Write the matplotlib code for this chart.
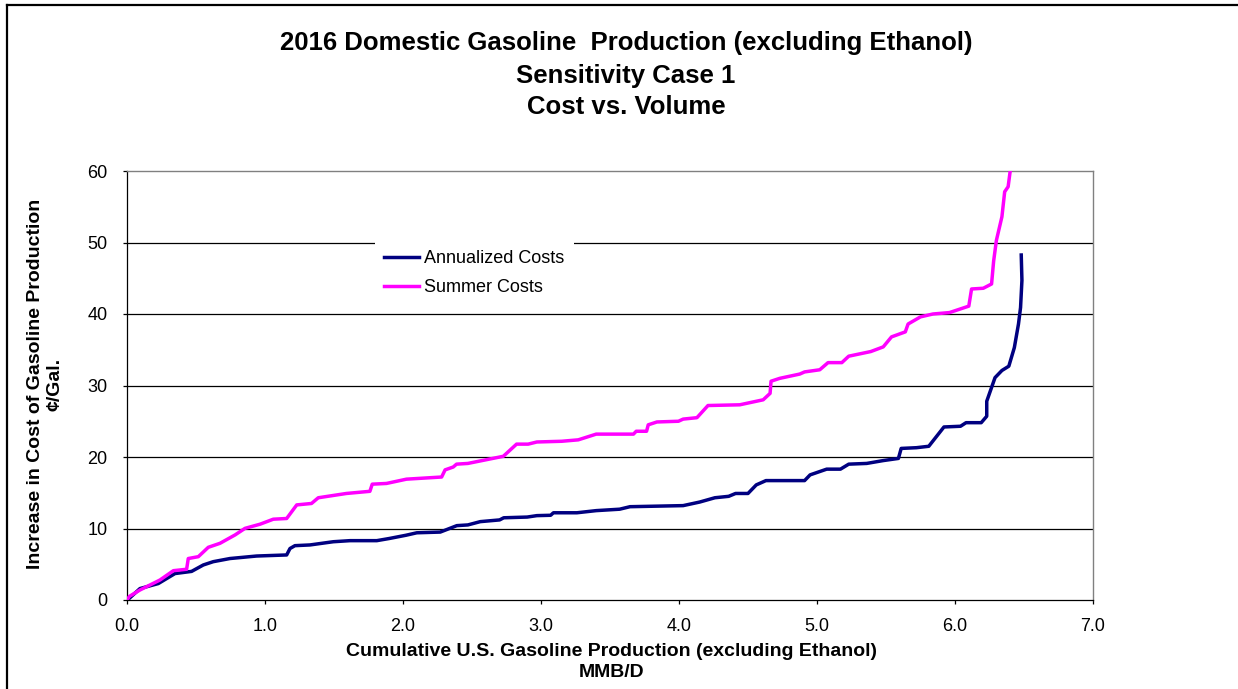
import matplotlib
matplotlib.use("Agg")
import matplotlib.pyplot as plt
from matplotlib.lines import Line2D

plt.rcParams['font.family'] = ['Liberation Sans', 'DejaVu Sans']

# Annualized costs (cumulative MMB/D vs cents/gal)
annual_x = [0.0, 0.017, 0.094, 0.227, 0.348, 0.468, 0.553, 0.625, 0.746, 0.939, 1.157,
            1.181, 1.217, 1.326, 1.495, 1.616, 1.81, 1.90, 2.02, 2.10, 2.27, 2.39, 2.47,
            2.56, 2.70, 2.73, 2.90, 2.97, 3.07, 3.09, 3.26, 3.40, 3.57, 3.645, 4.03,
            4.15, 4.26, 4.36, 4.41, 4.50, 4.56, 4.63, 4.91, 4.95, 5.07, 5.17, 5.23,
            5.36, 5.48, 5.59, 5.61, 5.72, 5.81, 5.92, 6.04, 6.08, 6.19, 6.23, 6.23,
            6.29, 6.34, 6.39, 6.43, 6.46, 6.475, 6.485, 6.48]
annual_y = [0.0, 0.24, 1.6, 2.3, 3.7, 4.0, 4.9, 5.36, 5.8, 6.15, 6.3,
            7.2, 7.6, 7.7, 8.15, 8.3, 8.3, 8.6, 9.05, 9.4, 9.5, 10.4, 10.5,
            10.96, 11.2, 11.5, 11.6, 11.8, 11.85, 12.2, 12.2, 12.5, 12.7, 13.05, 13.2,
            13.7, 14.3, 14.5, 14.9, 14.9, 16.1, 16.7, 16.7, 17.5, 18.3, 18.3, 19.0,
            19.1, 19.5, 19.8, 21.2, 21.3, 21.5, 24.2, 24.3, 24.8, 24.8, 25.7, 27.8,
            31.1, 32.1, 32.7, 35.3, 38.6, 40.9, 44.7, 48.25]

# Summer costs
summer_x = [0.0, 0.017, 0.094, 0.239, 0.336, 0.432, 0.444, 0.517, 0.589, 0.674, 0.783,
            0.855, 0.964, 1.06, 1.157, 1.23, 1.337, 1.386, 1.59, 1.76, 1.777, 1.88,
            2.025, 2.28, 2.305, 2.364, 2.388, 2.47, 2.727, 2.823, 2.907, 2.97, 3.15,
            3.27, 3.40, 3.67, 3.69, 3.765, 3.777, 3.84, 3.996, 4.03, 4.13, 4.21, 4.44,
            4.61, 4.66, 4.667, 4.73, 4.875, 4.91, 5.02, 5.08, 5.18, 5.23, 5.39, 5.48,
            5.54, 5.64, 5.66, 5.75, 5.84, 5.96, 6.10, 6.12, 6.205, 6.265, 6.28, 6.30,
            6.34, 6.36, 6.385, 6.40, 6.41]
summer_y = [0.0, 0.5, 1.4, 2.8, 4.1, 4.3, 5.8, 6.06, 7.37, 7.93, 9.1,
            10.02, 10.6, 11.3, 11.4, 13.3, 13.5, 14.3, 14.9, 15.2, 16.2, 16.3,
            16.9, 17.2, 18.2, 18.6, 19.0, 19.1, 20.1, 21.8, 21.8, 22.1, 22.2,
            22.4, 23.2, 23.2, 23.6, 23.6, 24.5, 24.9, 25.0, 25.3, 25.5, 27.2, 27.3,
            28.0, 28.9, 30.6, 31.0, 31.6, 31.9, 32.2, 33.2, 33.2, 34.1, 34.75, 35.4,
            36.8, 37.5, 38.6, 39.6, 40.0, 40.2, 41.1, 43.5, 43.6, 44.2, 47.4, 50.3,
            53.6, 57.1, 57.8, 60.0, 61.5]

x_ticks = [0, 1, 2, 3, 4, 5, 6, 7]
y_ticks = [0, 10, 20, 30, 40, 50, 60]

W, H = 1238, 689
fig = plt.figure(figsize=(W / 100, H / 100), dpi=100)
fig.patch.set_facecolor('white')

# chart border: only the left and top edges show in the crop
fig.add_artist(Line2D([7 / W, 7 / W], [0, 1 - 4.5 / H], transform=fig.transFigure,
                      color='black', linewidth=1.6))
fig.add_artist(Line2D([7 / W, 1], [1 - 4.5 / H, 1 - 4.5 / H], transform=fig.transFigure,
                      color='black', linewidth=1.6))

ax = fig.add_axes([127 / W, 1 - 600 / H, 966 / W, 429 / H])

for yv in y_ticks[1:-1]:
    ax.axhline(yv, color='black', linewidth=0.9, zorder=1)

ax.plot(annual_x, annual_y, color='#000080', linewidth=2.5, label='Annualized Costs', zorder=3)
ax.plot(summer_x, summer_y, color='#FF00FF', linewidth=2.5, label='Summer Costs', zorder=3)

ax.set_xlim(0, 7)
ax.set_ylim(0, 60)
ax.set_xticks(x_ticks)
ax.set_xticklabels([f'{v:.1f}' for v in x_ticks], fontsize=13)
ax.set_yticks(y_ticks)
ax.set_yticklabels([str(v) for v in y_ticks], fontsize=13)
ax.tick_params(direction='out', length=3, width=0.9, color='black')
ax.tick_params(axis='x', pad=10)
ax.tick_params(axis='y', pad=11)

for side in ['top', 'right']:
    ax.spines[side].set_color('#808080')
    ax.spines[side].set_linewidth(1.0)
for side in ['left', 'bottom']:
    ax.spines[side].set_color('black')
    ax.spines[side].set_linewidth(0.9)

fig.text(612 / W, 1 - 662 / H,
         'Cumulative U.S. Gasoline Production (excluding Ethanol)\nMMB/D',
         ha='center', va='center', fontsize=14, fontweight='bold', linespacing=1.35)
fig.text(45 / W, 1 - 384 / H, 'Increase in Cost of Gasoline Production\n¢/Gal.',
         ha='center', va='center', rotation=90, fontsize=14, fontweight='bold',
         linespacing=1.2)

leg = ax.legend(loc='upper left', bbox_to_anchor=(0.247, 0.857), fontsize=13,
                frameon=True, fancybox=False, framealpha=1.0, edgecolor='white',
                handlelength=1.95, handletextpad=0.3, labelspacing=0.65, borderpad=0.5)
leg.get_frame().set_linewidth(0)

title_lines = ['2016 Domestic Gasoline  Production (excluding Ethanol)',
               'Sensitivity Case 1', 'Cost vs. Volume']
for line, yc in zip(title_lines, [43, 76, 107]):
    fig.text(626 / W, 1 - yc / H, line, ha='center', va='center',
             fontsize=18.5, fontweight='bold')

fig.savefig('out.png', dpi=100, facecolor='white')
